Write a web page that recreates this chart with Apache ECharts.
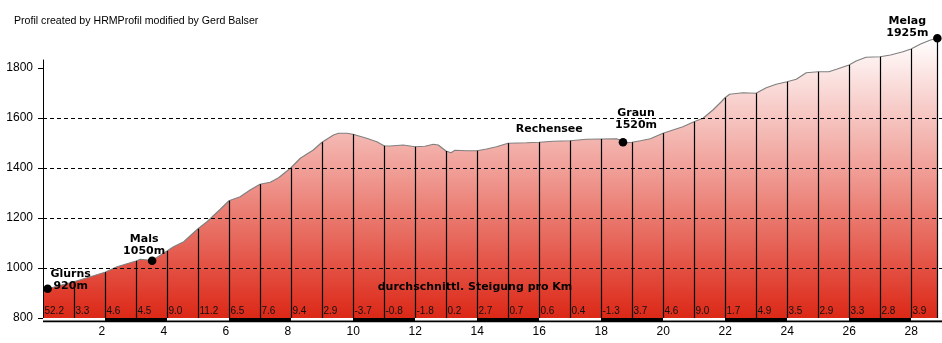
<!DOCTYPE html>
<html><head><meta charset="utf-8">
<script src="https://cdn.jsdelivr.net/npm/echarts@6/dist/echarts.min.js"></script>
<style>html,body{margin:0;padding:0;background:#fff}#c{width:942px;height:343px}</style>
</head><body><div id="c"></div>
<script>
// ---- data ----
const distKm = [0, 0.15, 1, 2, 2.39, 3, 3.14, 3.38, 3.52, 4, 4.21, 4.54, 5, 5.29, 5.72, 6, 6.36, 6.68, 7, 7.33, 7.6, 8, 8.3, 8.72, 9, 9.37, 9.53, 9.8, 10, 10.44, 10.77, 11, 11.2, 11.62, 12, 12.32, 12.59, 12.75, 13, 13.16, 13.29, 13.67, 14, 14.31, 14.63, 15, 15.6, 16, 16.46, 17, 17.53, 18, 18.5, 18.82, 19, 19.27, 19.59, 20, 20.32, 20.64, 21, 21.29, 21.61, 21.88, 22, 22.15, 22.58, 23, 23.33, 23.65, 24, 24.3, 24.62, 25, 25.35, 25.62, 26, 26.23, 26.55, 27, 27.34, 27.74, 28, 28.31, 28.63, 28.85];
const elevM = [912, 917, 945, 983, 1005, 1028, 1035, 1032, 1030, 1068, 1085, 1105, 1157, 1185, 1235, 1269, 1285, 1312, 1335, 1343, 1361, 1401, 1439, 1472, 1503, 1532, 1539, 1539, 1535, 1519, 1505, 1489, 1488, 1492, 1485, 1487, 1495, 1492, 1468, 1461, 1471, 1469, 1469, 1476, 1485, 1499, 1501, 1503, 1507, 1509, 1515, 1516, 1517, 1501, 1503, 1509, 1517, 1539, 1552, 1565, 1585, 1599, 1632, 1665, 1681, 1695, 1701, 1699, 1721, 1735, 1745, 1755, 1781, 1785, 1785, 1796, 1812, 1828, 1843, 1845, 1852, 1865, 1876, 1896, 1912, 1919];
const kmLines = [1, 2, 3, 4, 5, 6, 7, 8, 9, 10, 11, 12, 13, 14, 15, 16, 17, 18, 19, 20, 21, 22, 23, 24, 25, 26, 27, 28, 28.85];
const gradKm = [0, 1, 2, 3, 4, 5, 6, 7, 8, 9, 10, 11, 12, 13, 14, 15, 16, 17, 18, 19, 20, 21, 22, 23, 24, 25, 26, 27, 28];
const gradText = ['52.2', '3.3', '4.6', '4.5', '9.0', '11.2', '6.5', '7.6', '9.4', '2.9', '-3.7', '-0.8', '-1.8', '0.2', '2.7', '0.7', '0.6', '0.4', '-1.3', '3.7', '4.6', '9.0', '1.7', '4.9', '3.5', '2.9', '3.3', '2.8', '3.9'];
const poiName = ['Glurns', 'Mals', 'Graun', 'Melag'];
const poiElevLabel = ['920m', '1050m', '1520m', '1925m'];
const poiKm = [0.15, 3.52, 18.71, 28.85];
const poiElev = [917, 1029, 1503, 1919];
const placeName = ['Rechensee'];
const placeKm = [16.33];
const placeElev = [1556];
const xTickLabels = [2, 4, 6, 8, 10, 12, 14, 16, 18, 20, 22, 24, 26, 28];
const yTickLabels = [800, 1000, 1200, 1400, 1600, 1800];
const scaleStart = [0, 2, 4, 6, 8, 10, 12, 14, 16, 18, 20, 22, 24, 26, 28];
const scaleEnd = [2, 4, 6, 8, 10, 12, 14, 16, 18, 20, 22, 24, 26, 28, 29];
const creditText = 'Profil created by HRMProfil modified by Gerd Balser';
const gradTitle = 'durchschnittl. Steigung pro Km';

// ---- styles ----
const Y0 = 800;
const poiOffset = { Glurns: [23, -9], Mals: [-8, -16], Graun: [13, -23], Melag: [-30, -11] };
const labelFont = 'bold 11px "DejaVu Sans"';

const profile = distKm.map((d, i) => [d, elevM[i]]);
const lineData = kmLines.map(k => [k, elevM[distKm.indexOf(k)]]);
const gradData = gradKm.map((k, i) => [k, Y0, i]);
const scaleData = scaleStart.map((s, i) => [s, scaleEnd[i], i % 2]);
const poiData = poiKm.map((k, i) => [k, poiElev[i], i]);
const placeData = placeKm.map((k, i) => [k, placeElev[i], i]);
const xLabData = xTickLabels.map(v => [v, Y0]);

const chart = echarts.init(document.getElementById('c'), null, { renderer: 'canvas' });
chart.setOption({
  animation: false,
  backgroundColor: '#ffffff',
  textStyle: { fontFamily: '"Liberation Sans", Arial, sans-serif' },
  graphic: [
    { type: 'text', left: 14, top: 16, style: { text: creditText, font: '10.6px "Liberation Sans"', fill: '#000' }, z: 10 },
    { type: 'text', x: 475, y: 287, style: { text: gradTitle, font: labelFont, fill: '#000', align: 'center', verticalAlign: 'middle' }, z: 10 }
  ],
  grid: { left: 43, right: 0, top: 60, bottom: 25, containLabel: false },
  xAxis: {
    type: 'value', min: 0, max: 29, interval: 2,
    axisLine: { show: false }, axisTick: { show: false }, splitLine: { show: false },
    axisLabel: { show: false }
  },
  yAxis: {
    type: 'value', min: 800, max: 1832, interval: 200, z: 4,
    axisLine: { show: true, lineStyle: { color: '#000', width: 1 } },
    axisTick: { show: true, length: 5, customValues: yTickLabels, lineStyle: { color: '#000' } },
    axisLabel: { customValues: yTickLabels, formatter: v => String(v), color: '#000', fontSize: 12, fontFamily: '"Liberation Sans"', margin: 10 },
    splitLine: { show: true, showMinLine: false, showMaxLine: false, lineStyle: { color: '#000', type: [4, 3], width: 1 } }
  },
  series: [
    {
      type: 'line', data: profile, clip: false, symbol: 'none', z: 2,
      lineStyle: { color: '#808080', width: 1.2 },
      areaStyle: {
        origin: 'start', opacity: 1,
        color: new echarts.graphic.LinearGradient(0, 0, 0, 1, [
          { offset: 0, color: '#ffffff' },
          { offset: 0.5, color: '#ef9890' },
          { offset: 1, color: '#dc2817' }
        ])
      }
    },
    {
      type: 'custom', data: lineData, z: 3, clip: false,
      renderItem: (p, api) => {
        const a = api.coord([api.value(0), Y0]);
        const b = api.coord([api.value(0), api.value(1)]);
        const x = Math.round(a[0]) + 0.5;
        return { type: 'line', shape: { x1: x, y1: a[1], x2: x, y2: b[1] }, style: { stroke: '#000', lineWidth: 1.2 } };
      }
    },
    {
      type: 'custom', data: scaleData, z: 5, clip: false,
      renderItem: (p, api) => {
        const s = api.coord([api.value(0), Y0]);
        const e = api.coord([api.value(1), Y0]);
        const w = e[0] - s[0];
        if (api.value(2) === 1) {
          return { type: 'rect', shape: { x: s[0], y: s[1], width: w, height: 4.3 }, style: { fill: '#000' } };
        }
        return { type: 'group', children: [
          { type: 'rect', shape: { x: s[0], y: s[1], width: w, height: 2.4 }, style: { fill: '#fff' } },
          { type: 'rect', shape: { x: s[0], y: s[1] + 2.4, width: w, height: 1.9 }, style: { fill: '#000' } }
        ] };
      }
    },
    {
      type: 'custom', data: gradData, z: 6, clip: false,
      renderItem: (p, api) => {
        const a = api.coord([api.value(0), api.value(1)]);
        return { type: 'text', x: a[0] + 1.5, y: a[1] - 7, style: { text: gradText[api.value(2)], font: '10px "Liberation Sans"', fill: '#111', align: 'left', verticalAlign: 'middle' } };
      }
    },
    {
      type: 'custom', data: xLabData, z: 6, clip: false,
      renderItem: (p, api) => {
        const a = api.coord([api.value(0), api.value(1)]);
        return { type: 'text', x: a[0] - 6.5, y: a[1] + 13.5, style: { text: String(api.value(0)), font: '12px "Liberation Sans"', fill: '#000', align: 'left', verticalAlign: 'middle' } };
      }
    },
    {
      type: 'custom', data: poiData, z: 7, clip: false,
      renderItem: (p, api) => {
        const a = api.coord([api.value(0), api.value(1)]);
        const i = api.value(2);
        const off = poiOffset[poiName[i]];
        return { type: 'group', children: [
          { type: 'circle', shape: { cx: a[0], cy: a[1], r: 4.3 }, style: { fill: '#000' } },
          { type: 'text', x: a[0] + off[0], y: a[1] + off[1], style: { text: poiName[i] + '\n' + poiElevLabel[i], font: labelFont, lineHeight: 12, fill: '#000', align: 'center', verticalAlign: 'middle' } }
        ] };
      }
    },
    {
      type: 'custom', data: placeData, z: 7, clip: false,
      renderItem: (p, api) => {
        const a = api.coord([api.value(0), api.value(1)]);
        return { type: 'text', x: a[0], y: a[1], style: { text: placeName[api.value(2)], font: labelFont, fill: '#000', align: 'center', verticalAlign: 'middle' } };
      }
    }
  ]
});
</script>
</body></html>
